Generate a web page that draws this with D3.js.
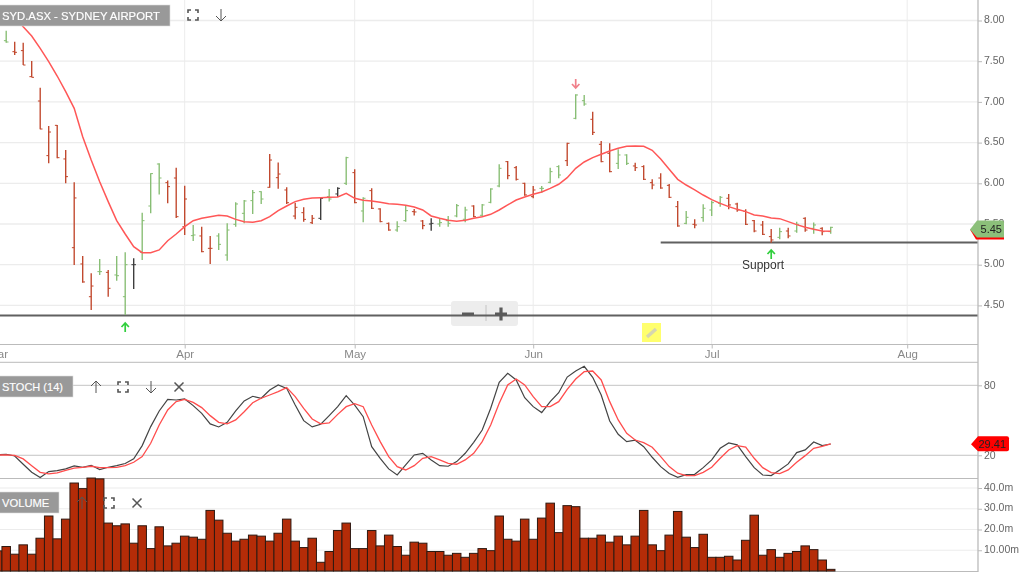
<!DOCTYPE html>
<html><head><meta charset="utf-8">
<script src="https://cdn.jsdelivr.net/npm/d3@7/dist/d3.min.js"></script>
<style>html,body{margin:0;padding:0;background:#fff;overflow:hidden}svg{display:block;font-family:"Liberation Sans",Arial,sans-serif;filter:blur(.3px)}</style>
</head><body><div id="c"></div>
<script>
const highs=[7.875,7.740,7.728,7.503,7.175,6.704,6.716,6.409,6.012,5.107,4.894,5.070,4.935,5.107,5.152,5.078,5.639,6.123,6.245,6.033,6.192,5.971,5.488,5.467,5.353,5.385,5.508,5.766,5.795,5.918,5.901,6.360,6.254,5.951,5.762,5.705,5.611,5.828,5.930,5.951,6.327,6.172,5.828,5.938,5.693,5.517,5.533,5.734,5.685,5.549,5.570,5.566,5.599,5.746,5.713,5.730,5.746,5.938,6.233,6.274,6.213,6.008,5.967,5.967,6.192,6.221,6.499,7.093,7.085,6.880,6.520,6.491,6.418,6.356,6.253,6.221,6.049,6.123,5.992,5.783,5.660,5.558,5.742,5.787,5.844,5.869,5.762,5.680,5.549,5.537,5.439,5.455,5.455,5.529,5.582,5.517,5.459,5.467];
const lows=[7.728,7.576,7.453,7.302,6.663,6.245,6.307,6.000,4.996,4.779,4.444,4.874,4.607,4.804,4.382,4.702,5.058,5.631,5.861,5.754,5.574,5.365,5.291,5.152,5.009,5.181,5.050,5.467,5.508,5.623,5.746,5.946,5.934,5.746,5.557,5.529,5.500,5.549,5.775,5.836,5.979,5.754,5.521,5.685,5.521,5.418,5.406,5.529,5.603,5.435,5.418,5.467,5.467,5.582,5.521,5.582,5.590,5.754,5.951,6.049,6.033,5.848,5.816,5.885,6.000,6.061,6.213,6.786,6.954,6.594,6.258,6.135,6.176,6.225,6.151,6.041,5.926,5.934,5.820,5.467,5.496,5.447,5.529,5.599,5.713,5.680,5.652,5.488,5.398,5.365,5.271,5.312,5.324,5.394,5.406,5.381,5.361,5.381];
const opens=[7.752,7.617,7.630,7.310,7.011,6.340,6.712,6.299,5.209,5.009,4.607,4.915,4.906,4.874,4.607,5.000,5.152,5.721,6.237,6.008,6.065,5.467,5.357,5.353,5.201,5.353,5.119,5.496,5.631,5.787,5.897,5.951,6.069,5.918,5.598,5.639,5.516,5.570,5.836,5.869,6.000,6.131,5.660,5.910,5.685,5.508,5.426,5.541,5.652,5.537,5.500,5.500,5.541,5.599,5.558,5.721,5.607,5.766,5.967,6.266,6.192,6.000,5.836,5.938,6.012,6.205,6.278,6.798,7.015,6.786,6.479,6.368,6.245,6.348,6.213,6.205,6.008,6.065,5.975,5.713,5.508,5.496,5.578,5.672,5.754,5.816,5.746,5.656,5.541,5.488,5.345,5.336,5.414,5.414,5.570,5.447,5.447,5.406];
const closes=[7.736,7.609,7.453,7.302,6.667,6.630,6.315,6.082,5.820,4.788,4.738,4.915,4.710,4.865,5.000,5.000,5.541,6.119,6.065,5.959,5.590,5.807,5.365,5.160,5.201,5.250,5.426,5.746,5.783,5.885,5.807,6.286,6.114,5.762,5.705,5.557,5.570,5.815,5.807,5.938,6.315,5.762,5.816,5.693,5.529,5.426,5.467,5.664,5.648,5.480,5.508,5.517,5.508,5.725,5.672,5.590,5.734,5.930,6.184,6.094,6.049,5.857,5.918,5.938,6.143,6.102,6.491,7.085,6.974,6.626,6.266,6.143,6.348,6.245,6.192,6.049,5.979,5.942,5.828,5.476,5.582,5.488,5.693,5.762,5.828,5.734,5.672,5.496,5.414,5.373,5.304,5.406,5.353,5.496,5.426,5.488,5.406,5.459];
const barKinds="grrrrrrrrrrgrggkgggrrrgrrggggggrrrrrrkgkgrgrrrggrrkggggrgggrrrrgggrggrrrggrrrrrrgrgggrrrrrrgrgrgrg".split("");
const movingAverage=[null,8.047,7.924,7.810,7.658,7.494,7.318,7.126,6.921,6.573,6.286,6.020,5.775,5.541,5.377,5.222,5.148,5.148,5.181,5.295,5.377,5.467,5.541,5.570,5.590,5.607,5.598,5.557,5.529,5.521,5.541,5.590,5.664,5.721,5.775,5.803,5.819,5.823,5.828,5.832,5.877,5.816,5.791,5.783,5.766,5.750,5.742,5.730,5.709,5.672,5.599,5.570,5.545,5.533,5.545,5.570,5.590,5.619,5.672,5.734,5.795,5.832,5.865,5.893,5.938,5.988,6.069,6.184,6.262,6.315,6.356,6.397,6.430,6.454,6.458,6.454,6.405,6.299,6.172,6.049,5.979,5.918,5.856,5.799,5.754,5.713,5.680,5.652,5.611,5.598,5.574,5.566,5.529,5.492,5.459,5.435,5.414,5.410];
// first entry of the next three belongs to the session before the first visible price bar
const stochK=[20.5,20.9,19.4,12.3,5.4,0.9,6.0,6.9,8.3,10.9,9.7,11.4,7.7,9.7,11.1,12.9,16.9,28.3,44.6,58.0,68.0,67.4,68.3,62.6,56.0,46.9,44.3,48.3,58.0,66.6,70.6,68.9,76.0,80.3,77.4,63.1,49.7,44.3,46.6,54.0,61.7,71.1,63.1,53.1,27.4,17.4,8.3,3.1,11.7,20.3,21.7,16.0,11.1,10.6,14.6,21.7,31.1,41.7,60.3,82.6,90.3,84.6,69.4,61.7,56.6,66.0,73.7,87.1,92.3,96.3,86.9,71.7,49.4,38.0,31.7,32.9,27.4,18.3,10.3,4.3,1.1,3.4,3.7,9.4,16.0,26.0,30.6,28.9,18.9,9.4,3.1,2.6,7.4,12.6,22.3,24.6,31.4,28.3,29.7];
const stochD=[20.2,20.3,20.0,16.9,11.1,5.4,4.0,4.9,7.1,8.9,9.7,10.6,9.4,9.4,9.7,11.1,14.0,18.9,30.3,46.0,58.9,66.0,68.0,65.4,60.9,54.0,48.3,46.9,50.3,57.4,65.1,68.9,71.7,74.6,78.0,70.3,60.3,51.1,46.9,47.7,55.1,61.7,64.3,61.7,46.0,31.7,18.9,10.3,7.4,11.1,17.4,18.9,16.0,13.1,12.3,16.0,21.7,31.7,46.0,64.6,80.3,85.4,80.3,70.3,61.7,61.7,66.0,76.6,85.4,91.7,92.3,84.6,66.0,50.3,38.9,33.1,30.9,26.9,18.9,10.3,4.6,2.6,2.6,5.4,9.7,17.4,24.6,28.3,27.1,17.4,9.4,5.1,4.3,7.4,14.0,19.7,26.0,27.7,29.7];
const volumes=[9.7,11.8,8.1,12.6,8.1,15.8,26.5,15.5,25.0,42.4,39.7,44.8,44.4,23.1,21.8,22.7,13.4,21.8,10.8,21.3,12.1,13.4,16.8,16.3,15.3,29.2,24.5,18.2,14.4,15.3,17.3,16.8,14.4,18.2,25.0,14.4,11.3,15.8,4.2,9.4,19.5,23.1,10.8,10.8,19.5,12.1,17.3,11.8,7.6,13.9,13.4,9.4,9.4,7.6,8.5,6.6,8.5,10.8,9.8,26.5,15.3,14.4,25.0,15.3,25.5,32.7,18.5,31.5,31.0,15.8,15.8,17.3,13.9,16.8,12.6,16.8,29.2,12.6,9.8,17.3,28.7,16.3,11.3,17.7,6.6,6.6,7.1,5.3,14.8,26.9,7.6,10.3,6.6,8.5,9.4,12.1,10.3,5.3,0.8];
const priceTicks=[8,7.5,7,6.5,6,5.5,5,4.5];
const stochTicks=[80,20];
const volumeTicks=[40,30,20,10];
const volumeTickLabels=["40.0m","30.0m","20.0m","10.00m"];
const monthLabels=["Mar","Apr","May","Jun","Jul","Aug"];
const monthSessions=[-1,21,41,62,83,106];
const supportLevels=[{value:4.376,from:-2},{value:5.273,from:77}];
const lastPrice=5.45, lastStoch=29.41;

const W=1024,H=576,axisX=978;
const x=d3.scaleLinear().domain([0,97]).range([6.2,830.7]);
const y=d3.scaleLinear().domain([8,4.5]).range([20.5,305.4]);
const yS=d3.scaleLinear().domain([0,100]).range([478.6,362]);
const yV=d3.scaleLinear().domain([0,40]).range([571,488]);
const svg=d3.select("#c").append("svg").attr("width",W).attr("height",H).attr("viewBox",[0,0,W,H]);
svg.append("defs").append("clipPath").attr("id","plot").append("rect").attr("x",0).attr("y",0).attr("width",axisX).attr("height",H);
const plot=svg.append("g").attr("clip-path","url(#plot)");

// grid
const grid="#ececec";
plot.append("g").selectAll("line").data(priceTicks).join("line").attr("x1",0).attr("x2",axisX).attr("y1",y).attr("y2",y).attr("stroke",grid).attr("stroke-width",1.3);
plot.append("g").selectAll("line").data(monthSessions.slice(1)).join("line").attr("x1",d=>x(d)).attr("x2",d=>x(d)).attr("y1",0).attr("y2",344).attr("stroke",grid);
plot.append("g").selectAll("line").data(volumeTicks).join("line").attr("x1",0).attr("x2",axisX).attr("y1",yV).attr("y2",yV).attr("stroke",grid).attr("stroke-width",1.2);
plot.append("g").selectAll("line").data(stochTicks).join("line").attr("x1",0).attr("x2",axisX).attr("y1",yS).attr("y2",yS).attr("stroke","#c4c4c4");
[344.5,362.3,478.5,571.5].forEach(v=>plot.append("line").attr("x1",0).attr("x2",axisX).attr("y1",v).attr("y2",v).attr("stroke","#bbb").attr("stroke-width",1));

// zoom control (translucent, lies under the support line)
plot.append("rect").attr("x",451).attr("y",301).attr("width",67).attr("height",25).attr("rx",3).attr("fill","#ededed");
plot.append("line").attr("x1",486).attr("x2",486).attr("y1",305).attr("y2",321).attr("stroke","#c4c4c4");

// support lines
plot.append("g").selectAll("line").data(supportLevels).join("line")
 .attr("x1",d=>x(d.from)).attr("x2",axisX).attr("y1",d=>y(d.value)).attr("y2",d=>y(d.value)).attr("stroke","#606060").attr("stroke-width",1.9);
plot.append("path").attr("stroke","#5a5a5a").attr("stroke-width",3.2).attr("fill","none").attr("d","M462,314H474M495,314H507M501,307.5V320.5");

// OHLC bars
const kindColor={g:"#86bd72",r:"#c0452a",k:"#3a3a3a"};
const ohlc=plot.append("g").selectAll("g").data(highs.map((h,i)=>({i,h,l:lows[i],o:opens[i],c:closes[i],k:barKinds[i]}))).join("g").attr("stroke",d=>kindColor[d.k]);
ohlc.append("line").attr("x1",d=>x(d.i)).attr("x2",d=>x(d.i)).attr("y1",d=>y(d.h)).attr("y2",d=>y(d.l)).attr("stroke-width",1.35);
ohlc.append("line").attr("x1",d=>x(d.i)-2.3).attr("x2",d=>x(d.i)).attr("y1",d=>y(d.o)).attr("y2",d=>y(d.o)).attr("stroke-width",1);
ohlc.append("line").attr("x1",d=>x(d.i)).attr("x2",d=>x(d.i)+2.3).attr("y1",d=>y(d.c)).attr("y2",d=>y(d.c)).attr("stroke-width",1);

// MA
plot.append("path").attr("fill","none").attr("stroke","#ff5757").attr("stroke-width",1.5)
 .attr("d",d3.line().defined(d=>d!==null).x((d,i)=>x(i)).y(d=>y(d))(movingAverage));

// stochastic
const lineS=d3.line().x((d,i)=>x(i-1)).y(d=>yS(d));
plot.append("path").attr("fill","none").attr("stroke","#444").attr("stroke-width",1.2).attr("d",lineS(stochK));
plot.append("path").attr("fill","none").attr("stroke","#ff4d4d").attr("stroke-width",1.3).attr("d",lineS(stochD));

// volume
const bw=x(1)-x(0);
plot.append("g").selectAll("rect").data(volumes).join("rect")
 .attr("x",(d,i)=>x(i-1)-bw/2).attr("width",bw).attr("y",d=>yV(d)).attr("height",d=>yV(0)-yV(d))
 .attr("fill","#b42c08").attr("stroke","#2e1a12").attr("stroke-width",1);

// axes
const axisStyle=g=>{g.selectAll(".domain").remove();g.selectAll("line").attr("stroke","#bbb");g.selectAll("text").attr("fill","#666").attr("font-size",10.5).attr("font-family","Liberation Sans");};
svg.append("line").attr("x1",axisX).attr("x2",axisX).attr("y1",0).attr("y2",572).attr("stroke","#bbb").attr("stroke-width",1.3);
const priceAxis=svg.append("g").attr("transform",`translate(${axisX},0)`).call(d3.axisRight(y).tickValues(priceTicks).tickFormat(d3.format(".2f")).tickSize(4).tickPadding(2)).call(axisStyle);
priceAxis.selectAll("text").attr("dy","0.2em");
svg.append("g").attr("transform",`translate(${axisX},0)`).call(d3.axisRight(yS).tickValues(stochTicks).tickSize(4).tickPadding(2)).call(axisStyle);
const volumeAxis=svg.append("g").attr("transform",`translate(${axisX},0)`).call(d3.axisRight(yV).tickValues(volumeTicks).tickFormat((d,i)=>volumeTickLabels[i]).tickSize(4).tickPadding(2)).call(axisStyle);
volumeAxis.selectAll("text").attr("dy","0.2em");
const xAxis=svg.append("g").attr("transform","translate(0,344.5)").call(d3.axisBottom(x).tickValues(monthSessions).tickFormat((d,i)=>monthLabels[i]).tickSize(4).tickPadding(1)).call(axisStyle);
xAxis.selectAll("text").attr("fill","#888").attr("font-size",11.5);

// arrows
function arrow(px,py,dir,color){
  const s=dir==="up"?1:-1;
  svg.append("path").attr("fill","none").attr("stroke",color).attr("stroke-width",1.7)
   .attr("d",`M${px},${py+5*s}V${py-4*s}M${px-3.7},${py}L${px},${py-4*s}L${px+3.7},${py}`);
}
arrow(x(14),327,"up","#31cf3d");
arrow(x(90),254,"up","#31cf3d");
arrow(x(67),84,"down","#f0808a");
svg.append("text").attr("x",763).attr("y",269).attr("text-anchor","middle").attr("font-size",12).attr("fill","#333").text("Support");

// labels
function tag(text,w,top,h,fs){
  svg.append("rect").attr("x",-2).attr("y",top).attr("width",w+2).attr("height",h).attr("fill","#999").attr("stroke","#dedede").attr("stroke-width",.6);
  svg.append("text").attr("x",2).attr("y",top+h/2+4).attr("fill","#fff").attr("font-size",fs).attr("stroke","#fff").attr("stroke-width",.15).text(text);
}
function icon(kind,cx,cy){
  const g=svg.append("g").attr("transform",`translate(${cx},${cy})`).attr("fill","none").attr("stroke","#555").attr("stroke-width",1);
  if(kind==="up")g.append("path").attr("d","M0,6V-6M-5,-1L0,-6L5,-1");
  if(kind==="down")g.append("path").attr("d","M0,-6V6M-5,1L0,6L5,1");
  if(kind==="x")g.append("path").attr("stroke-width",1.5).attr("d","M-4.5,-4.5L4.5,4.5M4.5,-4.5L-4.5,4.5");
  if(kind==="box")g.append("path").attr("stroke-width",1.6).attr("d","M-5,-2V-5H-2M2,-5H5V-2M5,2V5H2M-2,5H-5V2");
}
tag("SYD.ASX - SYDNEY AIRPORT",170,5,21,11.3);
icon("box",193,15);icon("down",221,15);
tag("STOCH (14)",73,376,21,11);
icon("up",96,387);icon("box",123,387);icon("down",151,387);icon("x",179,387);
tag("VOLUME",59,492,21,11.2);
icon("up",82,503);icon("box",109,503);icon("x",137,503);

// pencil
svg.append("rect").attr("x",642).attr("y",323).attr("width",19).attr("height",19).attr("fill","#ffff6e");
svg.append("path").attr("stroke","#d6d6b0").attr("stroke-width",3.5).attr("fill","none").attr("d","M647,337L656,329");

// flags
const py=y(lastPrice)+1.5;
svg.append("path").attr("fill","#f00").attr("d",`M970,${py}L976,${py+10}H1004V${py}Z`);
svg.append("path").attr("fill","#8cc07a").attr("d",`M970,${py}L977,${py-9}H1002Q1004,${py-9} 1004,${py-7}V${py+8}H977Z`);
svg.append("text").attr("x",1002).attr("y",py+3.5).attr("text-anchor","end").attr("font-size",11).attr("fill","#222").text(lastPrice.toFixed(2));
const sy=yS(lastStoch);
svg.append("path").attr("fill","#f00").attr("d",`M971,${sy}L978,${sy-8}H1007Q1009,${sy-8} 1009,${sy-6}V${sy+5}Q1009,${sy+7} 1007,${sy+7}H978Z`);
svg.append("text").attr("x",1006).attr("y",sy+4).attr("text-anchor","end").attr("font-size",11).attr("fill","#222").text(lastStoch.toFixed(2));
</script></body></html>
